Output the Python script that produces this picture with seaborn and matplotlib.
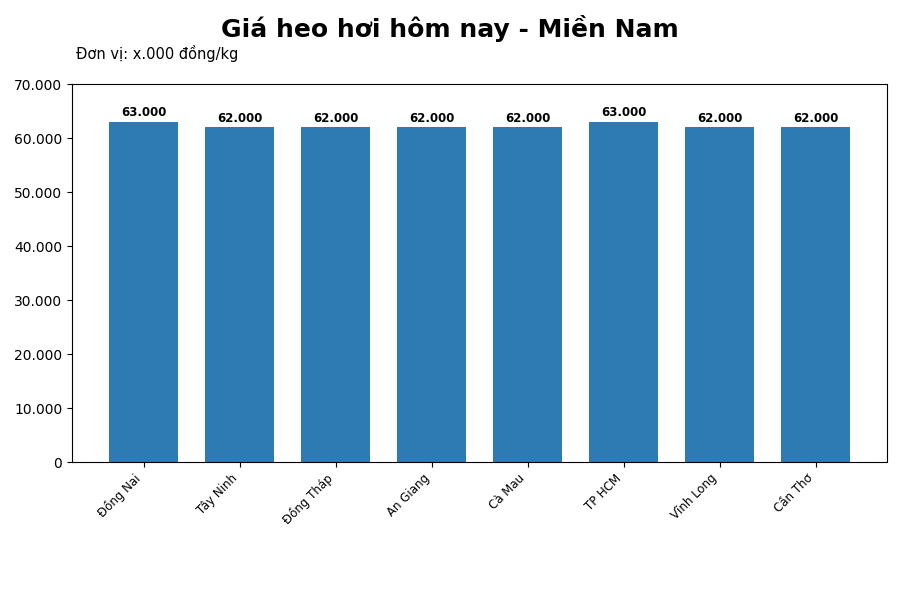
import matplotlib
matplotlib.use("Agg")
import matplotlib.pyplot as plt
import seaborn as sns
import pandas as pd
from matplotlib.ticker import FuncFormatter

provinces = ["Đồng Nai", "Tây Ninh", "Đồng Tháp", "An Giang", "Cà Mau", "TP HCM", "Vĩnh Long", "Cần Thơ"]
prices = [63000, 62000, 62000, 62000, 62000, 63000, 62000, 62000]

df = pd.DataFrame({"province": provinces, "price": prices})

fig = plt.figure(figsize=(9, 6), dpi=100)
ax = fig.add_axes([0.08, 0.23, 0.905, 0.63])
sns.barplot(data=df, x="province", y="price", color="#2e7bb4", saturation=1, width=0.72, ax=ax)

def fmt(v):
    return f"{int(round(v)):,}".replace(",", ".")

for p, v in zip(ax.patches, prices):
    ax.text(p.get_x() + p.get_width() / 2, v + 450, fmt(v), ha="center", va="bottom",
            fontsize=8.5, fontweight="bold")

ax.set_ylim(0, 70000)
ax.set_xlim(-0.75, 7.74)
ax.yaxis.set_major_formatter(FuncFormatter(lambda v, pos: fmt(v)))
ax.set_xlabel("")
ax.set_ylabel("")
plt.setp(ax.get_xticklabels(), rotation=45, ha="right", fontsize=8.5)
ax.tick_params(axis="y", labelsize=10)

fig.suptitle("Giá heo hơi hôm nay - Miền Nam", fontsize=18, fontweight="bold", y=0.975)
fig.text(0.084, 0.897, "Đơn vị: x.000 đồng/kg", fontsize=10.5, ha="left", va="bottom")

fig.savefig("out.png", dpi=100)
